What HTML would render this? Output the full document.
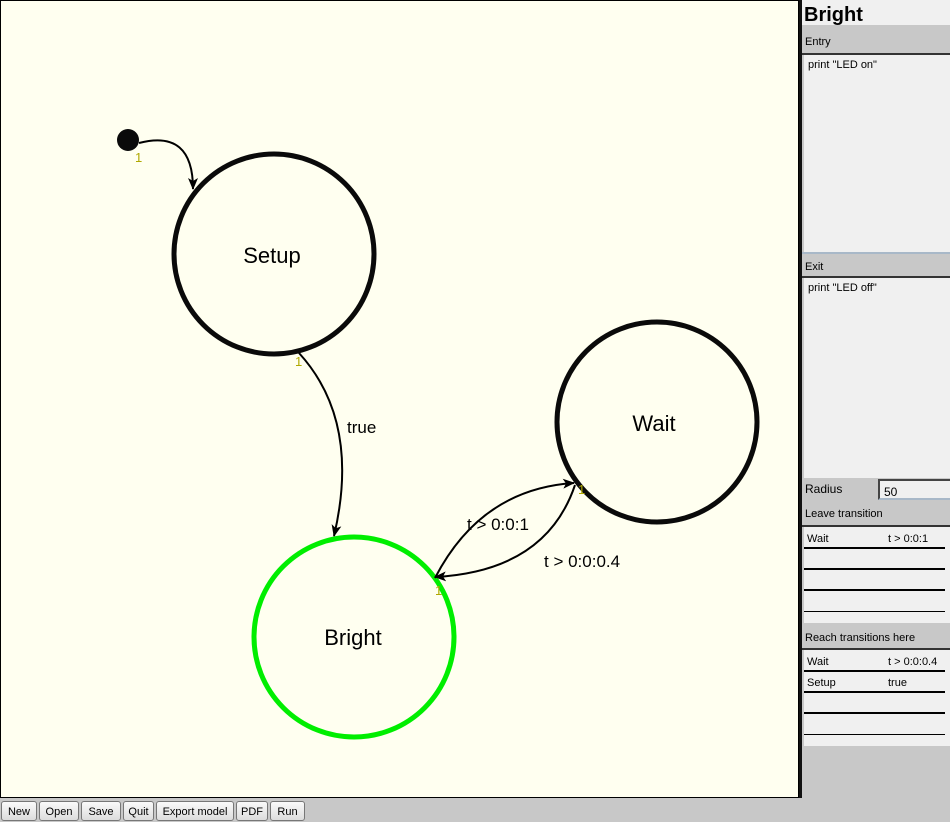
<!DOCTYPE html>
<html><head><meta charset="utf-8"><style>
body{margin:0;width:950px;height:822px;overflow:hidden;background:#c8c8c8;font-family:"Liberation Sans","DejaVu Sans",sans-serif;position:relative}
.abs{position:absolute}
#canvas{left:0;top:0;width:797px;height:796px;border:1px solid #000;background:#fffff0}
#panel{left:799px;top:0;width:151px;height:798px;background:#c8c8c8;border-left:3px solid #111;box-sizing:border-box}
.hdr{position:absolute;left:0;width:148px;background:#c8c8c8;font-size:11px;padding-left:3px;box-sizing:border-box;border-bottom:2px solid #333}
.area{position:absolute;left:2px;width:146px;background:#f0f0f0;font-size:11px;padding:4px 4px;box-sizing:border-box}
.row{position:absolute;left:2px;width:141px;height:20px;border-bottom:2px solid #000;font-size:11px;box-sizing:border-box;background:#f0f0f0}
.row span{position:absolute;top:4px}
.btn{position:absolute;top:801px;height:20px;border:1px solid #777;border-radius:3px;background:linear-gradient(#fafafa,#dcdcdc);font-size:11px;line-height:20px;text-align:center;box-sizing:border-box}
</style></head><body>
<div id="canvas" class="abs">
<svg width="797" height="796" style="position:absolute;left:0;top:0">
<defs><marker id="ar" markerWidth="12" markerHeight="10" refX="11" refY="5" orient="auto" markerUnits="userSpaceOnUse"><path d="M0,0 L12,5 L0,10 L3,5 Z" fill="#000"/></marker></defs>
<g><circle cx="127" cy="139" r="11" fill="#0a0a0a"/></g>
<text x="134" y="161" font-size="13" fill="#b0a800" font-family="Liberation Sans">1</text>
<path d="M138,142 Q192,128 192,188" fill="none" stroke="#000" stroke-width="2" marker-end="url(#ar)"/>
<g><circle cx="273" cy="253" r="100" fill="none" stroke="#0a0a0a" stroke-width="5"/>
<text x="271" y="262" font-size="22" text-anchor="middle" font-family="Liberation Sans">Setup</text></g>
<text x="294" y="365" font-size="13" fill="#b0a800">1</text>
<g><circle cx="656" cy="421" r="100" fill="none" stroke="#0a0a0a" stroke-width="5"/>
<text x="653" y="430" font-size="22" text-anchor="middle" font-family="Liberation Sans">Wait</text></g>
<text x="577" y="493" font-size="13" fill="#b0a800">1</text>
<g><circle cx="353" cy="636" r="100" fill="none" stroke="#00ee00" stroke-width="5"/>
<text x="352" y="644" font-size="22" text-anchor="middle" font-family="Liberation Sans">Bright</text></g>
<text x="434" y="594" font-size="13" fill="#b0a800">1</text>
<path d="M298,352 Q360,420 333,535" fill="none" stroke="#000" stroke-width="2" marker-end="url(#ar)"/>
<text x="346" y="432" font-size="17" font-family="Liberation Sans">true</text>
<path d="M434,577 Q480,488 573,482" fill="none" stroke="#000" stroke-width="2" marker-end="url(#ar)"/>
<text x="466" y="529" font-size="17" font-family="Liberation Sans">t &gt; 0:0:1</text>
<path d="M574,484 Q545,570 434,576" fill="none" stroke="#000" stroke-width="2" marker-end="url(#ar)"/>
<text x="543" y="566" font-size="17" font-family="Liberation Sans">t &gt; 0:0:0.4</text>
</svg></div>
<div id="panel" class="abs">
<div class="abs" style="left:0;top:0;width:148px;height:25px;background:#f0f0f0;font-weight:bold;font-size:20px;line-height:30px;padding-left:2px;box-sizing:border-box">Bright</div>
<div class="hdr" style="top:25px;height:30px;line-height:34px">Entry</div>
<div class="area" style="top:55px;height:197px">print "LED on"</div>
<div class="hdr" style="top:252px;height:26px;line-height:26px;border-top:2px solid #a8b8c8">Exit</div>
<div class="area" style="top:278px;height:200px">print "LED off"</div>
<div class="abs" style="left:3px;top:482px;font-size:12px">Radius</div>
<div class="abs" style="left:76px;top:479px;width:72px;height:21px;background:#f0f0f0;border-top:2px solid #444;border-left:2px solid #444;border-bottom:2px solid #a8b8c8;font-size:12px;line-height:22px;padding-left:4px;box-sizing:border-box">50</div>
<div class="hdr" style="top:503px;height:24px;line-height:22px">Leave transition</div>
<div class="area" style="top:527px;height:96px;padding:0"></div>
<div class="row" style="top:529px"><span style="left:3px">Wait</span><span style="left:84px">t &gt; 0:0:1</span></div>
<div class="row" style="top:550px"></div>
<div class="row" style="top:571px"></div>
<div class="row" style="top:592px;border-bottom:1px solid #000"></div>
<div class="hdr" style="top:625px;height:25px;line-height:26px">Reach transitions here</div>
<div class="area" style="top:650px;height:96px;padding:0"></div>
<div class="row" style="top:652px"><span style="left:3px">Wait</span><span style="left:84px">t &gt; 0:0:0.4</span></div>
<div class="row" style="top:673px"><span style="left:3px">Setup</span><span style="left:84px">true</span></div>
<div class="row" style="top:694px"></div>
<div class="row" style="top:715px;border-bottom:1px solid #000"></div>
</div>
<div class="btn" style="left:1px;width:36px">New</div>
<div class="btn" style="left:39px;width:40px">Open</div>
<div class="btn" style="left:81px;width:40px">Save</div>
<div class="btn" style="left:123px;width:31px">Quit</div>
<div class="btn" style="left:156px;width:78px">Export model</div>
<div class="btn" style="left:236px;width:32px">PDF</div>
<div class="btn" style="left:270px;width:35px">Run</div>
</body></html>
